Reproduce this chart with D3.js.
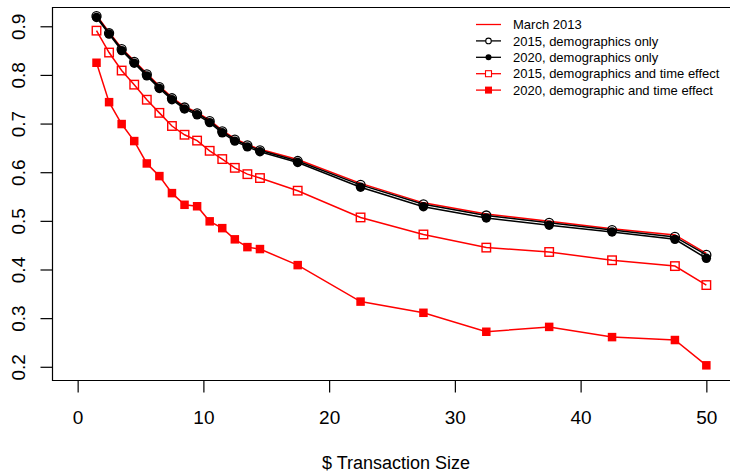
<!DOCTYPE html>
<html>
<head>
<meta charset="utf-8">
<script src="https://cdn.jsdelivr.net/npm/d3@7"></script>
<style>
  html, body { margin: 0; padding: 0; background: #fff; }
  svg { display: block; font-family: "Liberation Sans", Arial, Helvetica, sans-serif; }
</style>
</head>
<body>
<svg id="chart" width="730" height="473"></svg>
<script>
// Transaction size buckets ($)
const sizes = [1.5, 2.5, 3.5, 4.5, 5.5, 6.5, 7.5, 8.5, 9.5, 10.5, 11.5, 12.5, 13.5, 14.5,
               17.5, 22.5, 27.5, 32.5, 37.5, 42.5, 47.5, 50];

// Share of transactions, by scenario
const march2013 = [0.923, 0.888, 0.855, 0.829, 0.803, 0.777, 0.754, 0.735, 0.723, 0.707, 0.686,
                   0.669, 0.657, 0.647, 0.626, 0.577, 0.537, 0.514, 0.499, 0.484, 0.471, 0.433];
const demog2015 = [0.921, 0.886, 0.853, 0.827, 0.801, 0.775, 0.752, 0.733, 0.721, 0.705, 0.684,
                   0.667, 0.655, 0.645, 0.623, 0.574, 0.534, 0.511, 0.496, 0.481, 0.467, 0.430];
const demog2020 = [0.918, 0.884, 0.850, 0.824, 0.798, 0.772, 0.749, 0.730, 0.718, 0.702, 0.681,
                   0.664, 0.652, 0.642, 0.620, 0.569, 0.529, 0.506, 0.491, 0.477, 0.462, 0.423];
const time2015  = [0.891, 0.846, 0.809, 0.780, 0.749, 0.722, 0.695, 0.677, 0.665, 0.644, 0.627,
                   0.609, 0.596, 0.588, 0.562, 0.507, 0.472, 0.445, 0.436, 0.419, 0.407, 0.368];
const time2020  = [0.825, 0.744, 0.699, 0.664, 0.618, 0.592, 0.557, 0.533, 0.530, 0.499, 0.485,
                   0.462, 0.446, 0.442, 0.409, 0.334, 0.311, 0.272, 0.282, 0.261, 0.255, 0.203];

const xTicks = [0, 10, 20, 30, 40, 50];
const yTicks = [0.2, 0.3, 0.4, 0.5, 0.6, 0.7, 0.8, 0.9];

const legendLabels = ["March 2013", "2015, demographics only", "2020, demographics only",
                      "2015, demographics and time effect", "2020, demographic and time effect"];

const xTitle = "$ Transaction Size";

const svg = d3.select("#chart");
const plotL = 52.5, plotR = 731.5, plotT = 7.5, plotB = 380.5;

const x = d3.scaleLinear().domain([-2, 52]).range([plotL, plotR]);
const y = d3.scaleLinear().domain([0.1718, 0.9386]).range([plotB, plotT]);

const RED = "#ff0000", BLACK = "#000000";
const tickFont = "19px";

// Box: left, top and bottom edges
svg.append("path")
  .attr("d", `M${plotR},${plotT}H${plotL}V${plotB}H${plotR}`)
  .attr("fill", "none").attr("stroke", "#000").attr("stroke-width", 1.2);

// Axes
const gx = svg.append("g").attr("transform", `translate(0,${plotB})`)
  .call(d3.axisBottom(x).tickValues(xTicks).tickFormat(d3.format("d")).tickSize(12));
gx.select(".domain").remove();
gx.selectAll(".tick line").attr("stroke-width", 1.2);
gx.selectAll(".tick text")
  .attr("y", 43.5).attr("dy", 0)
  .style("font-size", tickFont).attr("fill", "#000");

const gy = svg.append("g").attr("transform", `translate(${plotL},0)`)
  .call(d3.axisLeft(y).tickValues(yTicks).tickFormat(d3.format(".1f")).tickSize(12));
gy.select(".domain").remove();
gy.selectAll(".tick line").attr("stroke-width", 1.2);
gy.selectAll(".tick text")
  .attr("x", 0).attr("y", -27.5).attr("dy", 0)
  .attr("transform", "rotate(-90)")
  .attr("text-anchor", "middle")
  .style("font-size", tickFont).attr("fill", "#000");

svg.append("text")
  .attr("x", (x(0) + x(50)) / 2 + 4).attr("y", 469)
  .attr("text-anchor", "middle")
  .style("font-size", "18px")
  .text(xTitle);

// Series lines and markers
const line = d3.line().x((d, i) => x(sizes[i])).y(d => y(d));

function drawSeries(values, color, marker, width) {
  const g = svg.append("g");
  g.append("path").datum(values)
    .attr("d", line).attr("fill", "none")
    .attr("stroke", color).attr("stroke-width", width);
  if (marker === "openCircle") {
    g.selectAll("circle").data(values).join("circle")
      .attr("cx", (d, i) => x(sizes[i])).attr("cy", d => y(d)).attr("r", 4.5)
      .attr("fill", "none").attr("stroke", color).attr("stroke-width", 1.3);
  } else if (marker === "dot") {
    g.selectAll("circle").data(values).join("circle")
      .attr("cx", (d, i) => x(sizes[i])).attr("cy", d => y(d)).attr("r", 4.7)
      .attr("fill", color);
  } else if (marker === "openSquare") {
    const s = 8.5;
    g.selectAll("rect").data(values).join("rect")
      .attr("x", (d, i) => x(sizes[i]) - s / 2).attr("y", d => y(d) - s / 2)
      .attr("width", s).attr("height", s)
      .attr("fill", "none").attr("stroke", color).attr("stroke-width", 1.4);
  } else if (marker === "square") {
    const s = 8.5;
    g.selectAll("rect").data(values).join("rect")
      .attr("x", (d, i) => x(sizes[i]) - s / 2).attr("y", d => y(d) - s / 2)
      .attr("width", s).attr("height", s)
      .attr("fill", color);
  }
}

drawSeries(march2013, RED, null, 1.5);
drawSeries(demog2015, BLACK, "openCircle", 1.5);
drawSeries(demog2020, BLACK, "dot", 1.5);
drawSeries(time2015, RED, "openSquare", 1.5);
drawSeries(time2020, RED, "square", 1.5);

// Legend
const legendItems = [
  { label: legendLabels[0], color: RED, marker: null },
  { label: legendLabels[1], color: BLACK, marker: "openCircle" },
  { label: legendLabels[2], color: BLACK, marker: "dot" },
  { label: legendLabels[3], color: RED, marker: "openSquare" },
  { label: legendLabels[4], color: RED, marker: "square" }
];
const lg = svg.append("g");
legendItems.forEach((it, i) => {
  const cy = 24.5 + i * 16.4;
  const row = lg.append("g");
  row.append("line").attr("x1", 476).attr("x2", 501).attr("y1", cy).attr("y2", cy)
    .attr("stroke", it.color).attr("stroke-width", 1.3);
  const cx = 488.5;
  if (it.marker === "openCircle") {
    row.append("circle").attr("cx", cx).attr("cy", cy).attr("r", 2.8)
      .attr("fill", "#fff").attr("stroke", it.color).attr("stroke-width", 1.1);
  } else if (it.marker === "dot") {
    row.append("circle").attr("cx", cx).attr("cy", cy).attr("r", 3).attr("fill", it.color);
  } else if (it.marker === "openSquare") {
    row.append("rect").attr("x", cx - 3).attr("y", cy - 3).attr("width", 6).attr("height", 6)
      .attr("fill", "#fff").attr("stroke", it.color).attr("stroke-width", 1.1);
  } else if (it.marker === "square") {
    row.append("rect").attr("x", cx - 3.5).attr("y", cy - 3.5).attr("width", 7).attr("height", 7)
      .attr("fill", it.color);
  }
  row.append("text").attr("x", 513).attr("y", cy).attr("dy", "0.36em")
    .style("font-size", "13px").text(it.label);
});
</script>
</body>
</html>
